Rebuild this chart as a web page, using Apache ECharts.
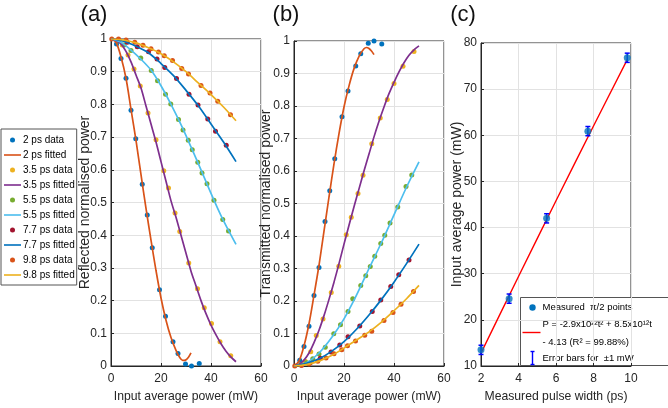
<!DOCTYPE html>
<html><head><meta charset="utf-8">
<script src="https://cdn.jsdelivr.net/npm/echarts@6/dist/echarts.min.js"></script>
<style>html,body{margin:0;padding:0;background:#fff}#c{width:668px;height:408px}</style>
</head><body><div id="c"></div><script>
// ---------- DATA ----------
const pulseNames = ['2 ps', '3.5 ps', '5.5 ps', '7.7 ps', '9.8 ps'];

// (a) reflected normalised power vs input average power (mW)
const refl2Data  = [[2.2,0.985],[4,0.94],[6,0.88],[8,0.782],[9.9,0.695],[12.5,0.556],[14.5,0.462],[16.5,0.362],[19.4,0.233],[21.8,0.152],[24.8,0.074],[26.8,0.038],[29.8,0.006],[32.2,0],[35.3,0.008]];
const refl2Fit   = [[0,1],[2,0.99],[4,0.945],[6,0.88],[8,0.785],[10,0.69],[12,0.585],[14,0.482],[16,0.385],[18,0.292],[20,0.208],[22,0.14],[24,0.087],[26,0.048],[27.5,0.026],[28.7,0.017],[29.8,0.018],[31,0.027],[32,0.04]];
const refl35Data = [[4.5,0.982],[6.8,0.951],[9.2,0.908],[11.7,0.856],[14.8,0.774],[18,0.692],[21.1,0.597],[23,0.544],[25.6,0.468],[27.5,0.411],[31.1,0.315],[34.6,0.236],[37.3,0.178],[40.2,0.13],[43.6,0.074],[47.9,0.031]];
const refl35Fit  = [[0,1],[2,0.995],[4,0.985],[6,0.962],[8,0.93],[10,0.89],[12,0.85],[14,0.795],[16,0.74],[18,0.685],[20,0.625],[22,0.565],[24,0.505],[26,0.455],[28,0.4],[30,0.345],[32,0.29],[34,0.245],[36,0.2],[38,0.16],[40,0.125],[42,0.095],[44,0.068],[46,0.045],[48,0.027],[50,0.013]];
const refl55Data = [[2.7,0.994],[5.2,0.982],[8,0.965],[11.9,0.942],[16.1,0.904],[18.6,0.872],[21.8,0.831],[23.9,0.801],[27,0.754],[28.8,0.722],[30.9,0.69],[32.5,0.661],[34.7,0.623],[36.4,0.59],[38.4,0.557],[41.2,0.507],[44.7,0.448],[47,0.413]];
const refl55Fit  = [[0,1],[4,0.99],[8,0.966],[12,0.938],[16,0.905],[20,0.857],[24,0.8],[28,0.738],[32,0.67],[36,0.6],[40,0.528],[44,0.46],[48,0.4],[50,0.372]];
const refl77Data = [[3,0.998],[6.5,0.99],[10.5,0.976],[15,0.961],[18.4,0.939],[21.5,0.913],[26.2,0.879],[31.2,0.831],[34.8,0.798],[38.7,0.755],[41.8,0.718],[46.1,0.675]];
const refl77Fit  = [[0,1],[5,0.993],[10,0.978],[15,0.958],[20,0.925],[25,0.888],[30,0.843],[35,0.795],[40,0.74],[45,0.685],[50,0.625]];
const refl98Data = [[0.3,1],[3,1],[6,0.997],[9.5,0.99],[12.8,0.981],[16,0.97],[19,0.96],[21.3,0.949],[24.6,0.934],[28.3,0.91],[31,0.893],[36,0.858],[39.6,0.835],[42.7,0.81],[47.8,0.768]];
const refl98Fit  = [[0,1],[5,0.997],[10,0.988],[15,0.973],[20,0.955],[25,0.93],[30,0.9],[35,0.865],[40,0.83],[45,0.792],[50,0.75]];

// (b) transmitted normalised power vs input average power (mW)
const trans2Data  = [[2.3,0.018],[4,0.06],[6,0.122],[8,0.217],[10,0.303],[12.4,0.445],[14.3,0.539],[16.3,0.638],[19.2,0.767],[21.6,0.846],[24.7,0.923],[26.7,0.961],[29.7,0.993],[32,1.0],[35.1,0.991]];
const trans2Fit   = [[0,0],[2,0.015],[4,0.062],[6,0.13],[8,0.218],[10,0.31],[12,0.415],[14,0.52],[16,0.622],[18,0.715],[20,0.797],[22,0.862],[24,0.915],[26,0.953],[28,0.976],[29,0.98],[30,0.977],[31,0.969],[32,0.958]];
const trans35Data = [[4.5,0.015],[6.7,0.044],[8.9,0.094],[11.6,0.145],[14.9,0.226],[17.9,0.307],[20.9,0.404],[22.9,0.458],[25.6,0.531],[27.6,0.587],[31.1,0.684],[34.5,0.763],[37.3,0.82],[40,0.869],[43.6,0.922],[48,0.968]];
const trans35Fit  = [[0,0],[2,0.005],[4,0.018],[6,0.04],[8,0.072],[10,0.11],[12,0.155],[14,0.205],[16,0.258],[18,0.315],[20,0.375],[22,0.433],[24,0.49],[26,0.545],[28,0.6],[30,0.652],[32,0.705],[34,0.753],[36,0.797],[38,0.838],[40,0.873],[42,0.905],[44,0.933],[46,0.956],[48,0.973],[50,0.985]];
const trans55Data = [[2.6,0.004],[5,0.01],[7.5,0.022],[10,0.037],[12.5,0.058],[15.9,0.099],[18.6,0.127],[21.6,0.168],[23.5,0.207],[26.7,0.248],[28.7,0.278],[30.5,0.306],[32.3,0.338],[34.7,0.377],[36.3,0.402],[38.4,0.44],[41.5,0.489],[44.8,0.552],[47.1,0.588]];
const trans55Fit  = [[0,0],[5,0.01],[10,0.04],[15,0.087],[20,0.145],[25,0.218],[30,0.3],[35,0.38],[40,0.465],[45,0.55],[50,0.628]];
const trans77Data = [[3,0.002],[6.5,0.01],[10.5,0.024],[14.8,0.043],[18.3,0.065],[21.6,0.09],[26.3,0.123],[31.3,0.168],[34.7,0.203],[38.7,0.245],[41.9,0.281],[46,0.326]];
const trans77Fit  = [[0,0],[5,0.008],[10,0.022],[15,0.045],[20,0.075],[25,0.113],[30,0.157],[35,0.205],[40,0.258],[45,0.315],[50,0.375]];
const trans98Data = [[0.3,0],[3,0.002],[6,0.006],[9.5,0.015],[12.8,0.025],[16,0.038],[19.1,0.05],[21.4,0.062],[24.6,0.077],[28.3,0.095],[31.1,0.107],[36,0.14],[39.6,0.165],[42.8,0.19],[47.8,0.229]];
const trans98Fit  = [[0,0],[5,0.004],[10,0.015],[15,0.032],[20,0.055],[25,0.08],[30,0.105],[35,0.135],[40,0.17],[45,0.207],[50,0.248]];

// (c) input average power (mW) at pi/2 vs measured pulse width (ps)
const pulseWidths   = [2, 3.5, 5.5, 7.7, 9.8];
const measuredPower = [13.5, 24.6, 42, 60.9, 76.8];
const errorMw       = 1;
const fitWidths     = [2, 4, 6, 8, 9.8];
const fitPower      = [12.8, 29.4, 45.8, 62.0, 76.4];

// ---------- STYLE ----------
const dataColors = ['#0072BD','#EDB120','#77AC30','#A2142F','#D95319'];
const fitColors  = ['#D95319','#7E2F8E','#4DBEEE','#0072BD','#EDB120'];
const FONT = "'Liberation Sans',Arial,sans-serif";
const AX = '#262626';
const GRIDC = '#e2e2e2';

function xAx(gi, min, max, interval, name) {
  return { gridIndex: gi, type: 'value', min, max, interval, name, nameLocation: 'middle', nameGap: 25, nameMoveOverlap: false,
    nameTextStyle: { fontFamily: FONT, fontSize: 12.2, color: AX },
    axisLine: { show: true, onZero: false, lineStyle: { color: AX, width: 1 } },
    axisTick: { show: true, inside: true, length: 3, lineStyle: { color: AX } },
    axisLabel: { fontFamily: FONT, fontSize: 12, color: AX, margin: 7 },
    splitLine: { show: true, lineStyle: { color: GRIDC, width: 1 } } };
}
function yAx(gi, min, max, interval, name, gap) {
  return { gridIndex: gi, type: 'value', min, max, interval, name, nameLocation: 'middle', nameGap: gap, nameMoveOverlap: false,
    nameTextStyle: { fontFamily: FONT, fontSize: 14, color: AX },
    axisLine: { show: true, onZero: false, lineStyle: { color: AX, width: 1 } },
    axisTick: { show: true, inside: true, length: 3, lineStyle: { color: AX } },
    axisLabel: { fontFamily: FONT, fontSize: 12, color: AX, margin: 4 },
    splitLine: { show: true, lineStyle: { color: GRIDC, width: 1 } } };
}

const reflData = [refl2Data, refl35Data, refl55Data, refl77Data, refl98Data];
const reflFit  = [refl2Fit, refl35Fit, refl55Fit, refl77Fit, refl98Fit];
const transData = [trans2Data, trans35Data, trans55Data, trans77Data, trans98Data];
const transFit  = [trans2Fit, trans35Fit, trans55Fit, trans77Fit, trans98Fit];

function panelSeries(gi, dataSets, fitSets) {
  const out = [];
  pulseNames.forEach((p, i) => {
    out.push({ type: 'scatter', name: p + ' data', xAxisIndex: gi, yAxisIndex: gi, data: dataSets[i],
      symbol: 'circle', symbolSize: 5, itemStyle: { color: dataColors[i], opacity: 1 }, silent: true });
    out.push({ type: 'line', name: p + ' fitted', xAxisIndex: gi, yAxisIndex: gi, data: fitSets[i],
      symbol: 'none', showSymbol: false, smooth: 0.3, clip: true,
      lineStyle: { color: fitColors[i], width: 1.7 }, itemStyle: { color: fitColors[i] }, silent: true });
  });
  return out;
}

const series = [].concat(panelSeries(0, reflData, reflFit), panelSeries(1, transData, transFit));
series.push({ type: 'scatter', name: 'Measured π/2 points', xAxisIndex: 2, yAxisIndex: 2,
  data: pulseWidths.map((w, i) => [w, measuredPower[i]]), symbolSize: 7, itemStyle: { color: '#0072BD' } });
series.push({ type: 'custom', name: 'Error bars', xAxisIndex: 2, yAxisIndex: 2,
  data: pulseWidths.map((w, i) => [w, measuredPower[i]]),
  renderItem: function (params, api) {
    const x = api.value(0), y = api.value(1);
    const t = api.coord([x, y + errorMw]), b = api.coord([x, y - errorMw]);
    const cw = 2.5, st = { stroke: '#0000FF', lineWidth: 1.5 };
    return { type: 'group', children: [
      { type: 'line', shape: { x1: t[0], y1: t[1], x2: b[0], y2: b[1] }, style: st },
      { type: 'line', shape: { x1: t[0] - cw, y1: t[1], x2: t[0] + cw, y2: t[1] }, style: st },
      { type: 'line', shape: { x1: b[0] - cw, y1: b[1], x2: b[0] + cw, y2: b[1] }, style: st } ] };
  } });
series.push({ type: 'line', name: 'Quadratic fit', xAxisIndex: 2, yAxisIndex: 2,
  data: fitWidths.map((w, i) => [w, fitPower[i]]), symbol: 'none', smooth: 0.3,
  lineStyle: { color: '#FF0000', width: 1.4 }, itemStyle: { color: '#FF0000' }, z: 1 });

const legendData = [];
pulseNames.forEach(p => {
  legendData.push({ name: p + ' data', icon: 'circle' });
  legendData.push({ name: p + ' fitted', icon: 'path://M0,0H20V1.9H0Z' });
});

const TS = { fontFamily: FONT, fontSize: 22, fontWeight: 'normal', color: '#111' };
const option = {
  backgroundColor: '#fff',
  animation: false,
  title: [
    { text: '(a)', left: 89, top: -1, textAlign: 'center', textStyle: TS },
    { text: '(b)', left: 281, top: -1, textAlign: 'center', textStyle: TS },
    { text: '(c)', left: 458, top: -1, textAlign: 'center', textStyle: TS }
  ],
  grid: [
    { left: 111, top: 39, width: 150, height: 327, show: true, borderColor: AX, borderWidth: 1, backgroundColor: '#fff' },
    { left: 294, top: 41, width: 150, height: 328, show: true, borderColor: AX, borderWidth: 1, backgroundColor: '#fff' },
    { left: 481, top: 43, width: 150, height: 326, show: true, borderColor: AX, borderWidth: 1, backgroundColor: '#fff' }
  ],
  xAxis: [
    xAx(0, 0, 60, 20, 'Input average power (mW)'),
    xAx(1, 0, 60, 20, 'Input average power (mW)'),
    xAx(2, 2, 10, 2, 'Measured pulse width (ps)')
  ],
  yAxis: [
    yAx(0, 0, 1, 0.1, 'Reflected normalised power', 19),
    yAx(1, 0, 1, 0.1, 'Transmitted normalised power', 21),
    yAx(2, 10, 80, 10, 'Input average power (mW)', 17)
  ],
  legend: [{
    data: legendData, orient: 'vertical', left: 1, top: 129, itemWidth: 17, itemHeight: 5, itemGap: 3,
    selectedMode: false, textStyle: { fontFamily: FONT, fontSize: 10, color: '#000', lineHeight: 12, padding: [0, 0, 0, -3] },
    borderColor: '#555', borderWidth: 1, padding: [5, 2, 4, 3], backgroundColor: '#fff'
  }],
  graphic: [{
    type: 'group', left: 520, top: 297, z: 100, children: [
      { type: 'rect', shape: { x: 0, y: 0, width: 152, height: 68 }, style: { fill: '#fff', stroke: '#555', lineWidth: 1 } },
      { type: 'circle', shape: { cx: 12, cy: 10, r: 3.2 }, style: { fill: '#0072BD' } },
      { type: 'text', x: 22, y: 10, style: { text: 'Measured  π/2 points', fontSize: 9.5, verticalAlign: 'middle', fontFamily: FONT, fill: '#000' } },
      { type: 'line', shape: { x1: 2, y1: 35, x2: 20, y2: 35 }, style: { stroke: '#FF0000', lineWidth: 1.4 } },
      { type: 'text', x: 22, y: 27, style: { text: 'P = -2.9x10²²t² + 8.5x10¹²t', fontSize: 9.5, verticalAlign: 'middle', fontFamily: FONT, fill: '#000' } },
      { type: 'text', x: 22, y: 45, style: { text: '- 4.13 (R² = 99.88%)', fontSize: 9.5, verticalAlign: 'middle', fontFamily: FONT, fill: '#000' } },
      { type: 'line', shape: { x1: 12, y1: 54, x2: 12, y2: 67 }, style: { stroke: '#0000FF', lineWidth: 1.4 } },
      { type: 'line', shape: { x1: 10, y1: 54, x2: 14, y2: 54 }, style: { stroke: '#0000FF', lineWidth: 1.4 } },
      { type: 'line', shape: { x1: 10, y1: 67, x2: 14, y2: 67 }, style: { stroke: '#0000FF', lineWidth: 1.4 } },
      { type: 'text', x: 22, y: 61, style: { text: 'Error bars for  ±1 mW', fontSize: 9.5, verticalAlign: 'middle', fontFamily: FONT, fill: '#000' } }
    ]
  }],
  series: series
};
const chart = echarts.init(document.getElementById('c'), null, { renderer: 'canvas', width: 668, height: 408 });
chart.setOption(option);
</script></body></html>
